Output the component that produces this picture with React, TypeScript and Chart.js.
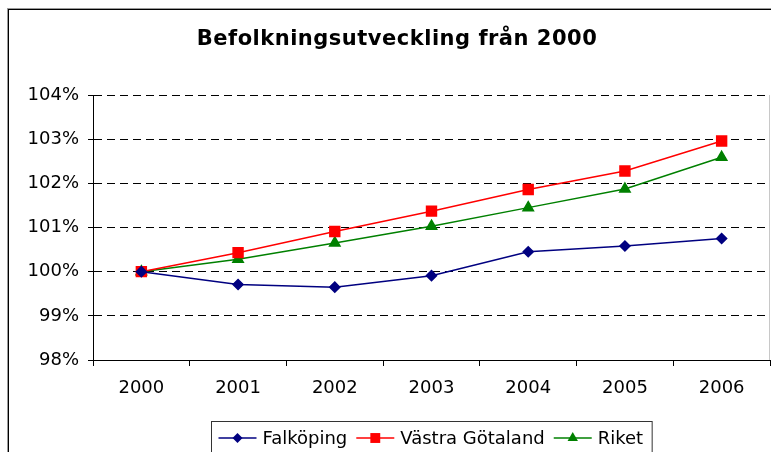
import React, { useEffect, useRef } from "react";
import { Chart, registerables } from "chart.js";

Chart.register(...registerables);

const years = ["2000", "2001", "2002", "2003", "2004", "2005", "2006"];
const falkoping = [100, 99.71, 99.65, 99.91, 100.45, 100.58, 100.75];
const vastraGotaland = [100, 100.43, 100.91, 101.37, 101.86, 102.28, 102.96];
const riket = [100, 100.28, 100.65, 101.03, 101.45, 101.87, 102.59];
const titleText = "Befolkningsutveckling från 2000";
const yMin = 98;
const yMax = 104;

const FONT = "DejaVu Sans, Verdana, sans-serif";

function drawMarker(ctx: CanvasRenderingContext2D, style: string, x: number, y: number, r: number, color: string) {
  ctx.save();
  ctx.fillStyle = color;
  ctx.beginPath();
  if (style === "rectRot") {
    ctx.moveTo(x, y - r);
    ctx.lineTo(x + r, y);
    ctx.lineTo(x, y + r);
    ctx.lineTo(x - r, y);
  } else if (style === "rect") {
    const s = Math.SQRT1_2 * r;
    ctx.rect(x - s, y - s, 2 * s, 2 * s);
  } else {
    const a = 2.0944;
    ctx.moveTo(x, y - r);
    ctx.lineTo(x + Math.sin(a) * r, y - Math.cos(a) * r);
    ctx.lineTo(x - Math.sin(a) * r, y - Math.cos(a) * r);
  }
  ctx.closePath();
  ctx.fill();
  ctx.restore();
}

const framePlugin = {
  id: "frame",
  beforeDraw(chart: any) {
    const ctx = chart.ctx;
    ctx.save();
    ctx.fillStyle = "#ffffff";
    ctx.fillRect(0, 0, chart.width, chart.height);
    ctx.fillStyle = "#9a9a9a";
    ctx.fillRect(7, 8, chart.width, 1);
    ctx.fillRect(7, 8, 1, chart.height);
    ctx.fillStyle = "#000000";
    ctx.fillRect(8, 9, chart.width, 1);
    ctx.fillRect(8, 9, 1, chart.height);
    ctx.restore();
  },
  afterDraw(chart: any) {
    const ctx = chart.ctx;
    const a = chart.chartArea;
    ctx.save();
    // right plot edge
    ctx.fillStyle = "#c8c8c8";
    ctx.fillRect(Math.round(a.right) - 1, a.top, 1, a.bottom - a.top);
    // title
    ctx.fillStyle = "#000";
    ctx.font = `bold 21px ${FONT}`;
    try { (ctx as any).letterSpacing = "0.5px"; } catch (e) {}
    ctx.textAlign = "center";
    ctx.textBaseline = "alphabetic";
    ctx.fillText(titleText, 397, 45);
    try { (ctx as any).letterSpacing = "0px"; } catch (e) {}

    // legend
    const ds = chart.data.datasets;
    ctx.font = `18px ${FONT}`;
    ctx.textAlign = "left";
    const lineLen = 38;
    const gapText = 6;
    const gapItem = 9;
    const padL = 7;
    const padR = 9;
    const widths = ds.map((d: any) => ctx.measureText(d.label).width);
    let total = padL + padR;
    widths.forEach((w: number, i: number) => {
      total += lineLen + gapText + w + (i < widths.length - 1 ? gapItem : 0);
    });
    const cx = (a.left + a.right) / 2;
    const bx = Math.round(cx - total / 2) + 0.5;
    const by = 421.5;
    ctx.strokeStyle = "#333";
    ctx.lineWidth = 1;
    ctx.strokeRect(bx, by, total, 40);
    let x = bx + padL;
    const ly = 438;
    ds.forEach((d: any, i: number) => {
      ctx.strokeStyle = d.borderColor;
      ctx.lineWidth = 1.5;
      ctx.beginPath();
      ctx.moveTo(x, ly);
      ctx.lineTo(x + lineLen, ly);
      ctx.stroke();
      drawMarker(ctx, d.pointStyle, x + lineLen / 2, ly, d.pointRadius, d.borderColor);
      ctx.fillStyle = "#000";
      ctx.fillText(d.label, x + lineLen + gapText, 444);
      x += lineLen + gapText + widths[i] + gapItem;
    });
    ctx.restore();
  },
};

export default function App() {
  const ref = useRef<HTMLCanvasElement | null>(null);
  useEffect(() => {
    if (!ref.current) return;
    const chart = new Chart(ref.current, {
      type: "line",
      data: {
        labels: years,
        datasets: [
          {
            label: "Falköping",
            data: falkoping,
            borderColor: "#000080",
            backgroundColor: "#000080",
            pointBackgroundColor: "#000080",
            pointBorderColor: "#000080",
            pointStyle: "rectRot",
            pointRadius: 5,
            borderWidth: 1.5,
            tension: 0,
          },
          {
            label: "Västra Götaland",
            data: vastraGotaland,
            borderColor: "#ff0000",
            backgroundColor: "#ff0000",
            pointBackgroundColor: "#ff0000",
            pointBorderColor: "#ff0000",
            pointStyle: "rect",
            pointRadius: 7,
            borderWidth: 1.5,
            tension: 0,
          },
          {
            label: "Riket",
            data: riket,
            borderColor: "#008000",
            backgroundColor: "#008000",
            pointBackgroundColor: "#008000",
            pointBorderColor: "#008000",
            pointStyle: "triangle",
            pointRadius: 6,
            borderWidth: 1.5,
            tension: 0,
          },
        ],
      },
      options: {
        responsive: false,
        animation: false,
        devicePixelRatio: 1,
        layout: { autoPadding: false, padding: { left: 8, top: 95, right: 1, bottom: 52 } },
        plugins: {
          legend: { display: false },
          title: { display: false },
          tooltip: { enabled: false },
        },
        scales: {
          x: {
            type: "category",
            offset: true,
            afterFit: (s: any) => {
              s.height = 40;
              s.paddingLeft = 0;
              s.paddingRight = 0;
            },
            grid: {
              display: true,
              drawOnChartArea: false,
              offset: true,
              tickLength: 6,
              color: "#000",
              tickColor: "#000",
            },
            border: { display: true, color: "#000", width: 1 },
            ticks: {
              color: "#000",
              font: { family: FONT, size: 18 },
              padding: 12,
              maxRotation: 0,
              autoSkip: false,
            },
          },
          y: {
            min: yMin,
            max: yMax,
            afterFit: (s: any) => {
              s.width = 85;
            },
            grid: {
              color: "#000",
              tickColor: "#000",
              tickLength: 5,
              tickBorderDash: [],
            } as any,
            border: { display: true, color: "#000", width: 1, dash: [8, 5] } as any,
            ticks: {
              stepSize: 1,
              color: "#000",
              font: { family: FONT, size: 18 },
              padding: 9,
              callback: (v: any) => `${v}%`,
            },
          },
        },
      },
      plugins: [framePlugin],
    });
    return () => chart.destroy();
  }, []);
  return (
    <div style={{ position: "absolute", left: 0, top: 0, width: 771, height: 452, overflow: "hidden" }}>
      <canvas ref={ref} width={771} height={452} style={{ display: "block" }} />
    </div>
  );
}
